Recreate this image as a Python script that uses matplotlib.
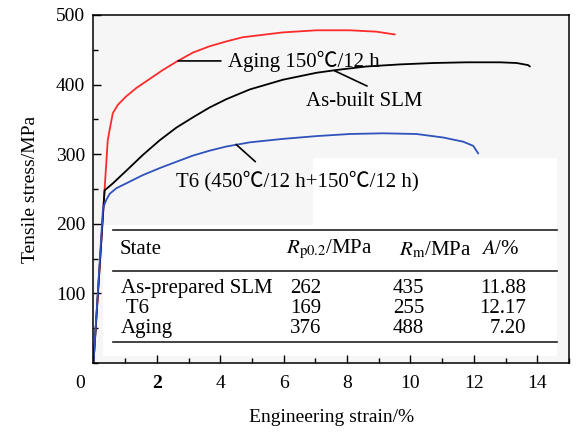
import matplotlib
matplotlib.use("Agg")
import matplotlib.pyplot as plt
from matplotlib.patches import Rectangle
from matplotlib.ticker import MultipleLocator
from matplotlib.transforms import ScaledTranslation

# curves (strain %, stress MPa)
aging_x = [0.0, 0.45, 0.51, 0.61, 0.77, 1.03, 1.35, 1.77, 2.19, 2.66, 3.14, 3.66, 4.19,
           4.71, 5.98, 7.04, 8.09, 8.93, 9.51]
aging_y = [0, 320, 335, 359, 371, 383, 395, 408, 421, 434, 446, 455, 462,
           468, 475, 478, 478, 476, 472]

built_x = [0.0, 0.35, 0.61, 1.03, 1.56, 2.09, 2.61, 3.14, 3.66, 4.19, 4.93, 5.98, 7.04,
           7.67, 8.61, 9.67, 10.72, 11.77, 12.82, 13.35, 13.71, 13.77]
built_y = [0, 248, 258, 276, 299, 320, 338, 353, 367, 379, 393, 407, 417,
           421, 426, 429, 431, 432, 432, 431, 428, 426]

t6_x = [0.0, 0.3, 0.40, 0.51, 0.72, 1.03, 1.56, 2.09, 2.61, 3.14, 3.66, 4.19, 4.93,
        5.98, 7.04, 8.09, 9.14, 10.19, 11.03, 11.66, 11.98, 12.14]
t6_y = [0, 222, 234, 243, 251, 258, 270, 280, 289, 298, 305, 311, 317,
        322, 326, 329, 330, 329, 324, 318, 312, 301]

# table values
states = ["As-prepared SLM", " T6", "Aging"]
rp02 = ["262", "169", "376"]
rm = ["435", "255", "488"]
elong = ["11.88", "12.17", "7.20"]

xticks = [0, 2, 4, 6, 8, 10, 12, 14]
yticks = [100, 200, 300, 400, 500]

serif = ["Liberation Serif", "Noto Sans CJK SC"]
plt.rcParams["font.family"] = serif
plt.rcParams["mathtext.fontset"] = "stix"

fig = plt.figure(figsize=(5.77, 4.33), dpi=100)
ax = fig.add_axes([0.162, 0.1617, 0.824, 0.8037])
ax.set_facecolor("#f6f6f6")

# white patches behind the labels and the table
ax.add_patch(Rectangle((0.461, 0.397), 0.514, 0.192, transform=ax.transAxes,
                       facecolor="white", edgecolor="none", zorder=0))
ax.add_patch(Rectangle((0.02, 0.02), 0.955, 0.377, transform=ax.transAxes,
                       facecolor="white", edgecolor="none", zorder=0))

kw = dict(lw=1.3, solid_joinstyle="round", solid_capstyle="round")
ax.plot(aging_x, aging_y, color="#ff2b2b", **kw)
ax.plot(built_x, built_y, color="black", **kw)
ax.plot(t6_x, t6_y, color="#2f52bd", **kw)

ax.set_xlim(0, 15)
ax.set_ylim(0, 500)
ax.set_xticks(xticks)
ax.set_yticks(yticks)
ax.xaxis.set_minor_locator(MultipleLocator(1))
ax.yaxis.set_minor_locator(MultipleLocator(50))
ax.tick_params(which="both", direction="in", top=False, right=False, labelsize=14)
ax.tick_params(which="major", length=6, width=1)
ax.tick_params(which="minor", length=3.5, width=1)
ax.tick_params(axis="x", pad=9)
ax.tick_params(axis="y", pad=6)
for s in ax.spines.values():
    s.set_linewidth(1.1)

labs = ax.get_xticklabels()
labs[0].set_transform(labs[0].get_transform() + ScaledTranslation(-0.13, 0, fig.dpi_scale_trans))
labs[1].set_fontweight("bold")

ax.set_xlabel("Engineering strain/%", fontsize=14, labelpad=12)
ax.set_ylabel("Tensile stress/MPa", fontsize=14, labelpad=12)

# curve labels
ax.annotate("Aging 150℃/12 h", xy=(2.67, 434), xytext=(4.24, 434),
            ha="left", va="center", fontsize=15,
            arrowprops=dict(arrowstyle="-", color="black", lw=1.2,
                            relpos=(0, 0.5), shrinkA=3, shrinkB=0))
ax.annotate("As-built SLM", xy=(7.6, 420), xytext=(6.7, 376),
            ha="left", va="center", fontsize=15,
            arrowprops=dict(arrowstyle="-", color="black", lw=1.2,
                            relpos=(0.63, 1.0), shrinkA=5, shrinkB=0))
ax.annotate("T6 (450℃/12 h+150℃/12 h)", xy=(4.5, 314), xytext=(2.6, 261),
            ha="left", va="center", fontsize=15,
            arrowprops=dict(arrowstyle="-", color="black", lw=1.2,
                            relpos=(0.37, 1.0), shrinkA=7, shrinkB=0))

# table inside the axes
tx0, tx1 = 0.041, 0.975
for yy in [0.382, 0.264, 0.060]:
    ax.plot([tx0, tx1], [yy, yy], transform=ax.transAxes, color="#222222", lw=1.2)

hy = 0.325
ax.text(0.054, hy, "State", transform=ax.transAxes, fontsize=15, va="center")
ax.text(0.405, hy, r"$R_{\rm p0.2}$/MPa", transform=ax.transAxes, fontsize=15, va="center")
ax.text(0.643, hy, r"$R_{\rm m}$/MPa", transform=ax.transAxes, fontsize=15, va="center")
ax.text(0.815, hy, r"$A$/%", transform=ax.transAxes, fontsize=15, va="center")

row_y = [0.214, 0.156, 0.099]
for i in range(len(states)):
    ax.text(0.058, row_y[i], states[i], transform=ax.transAxes, fontsize=15, va="center")
    ax.text(0.413, row_y[i], rp02[i], transform=ax.transAxes, fontsize=15, va="center")
    ax.text(0.630, row_y[i], rm[i], transform=ax.transAxes, fontsize=15, va="center")
    ax.text(0.910, row_y[i], elong[i], transform=ax.transAxes, fontsize=15, va="center", ha="right")

fig.savefig("out.png", dpi=100)
